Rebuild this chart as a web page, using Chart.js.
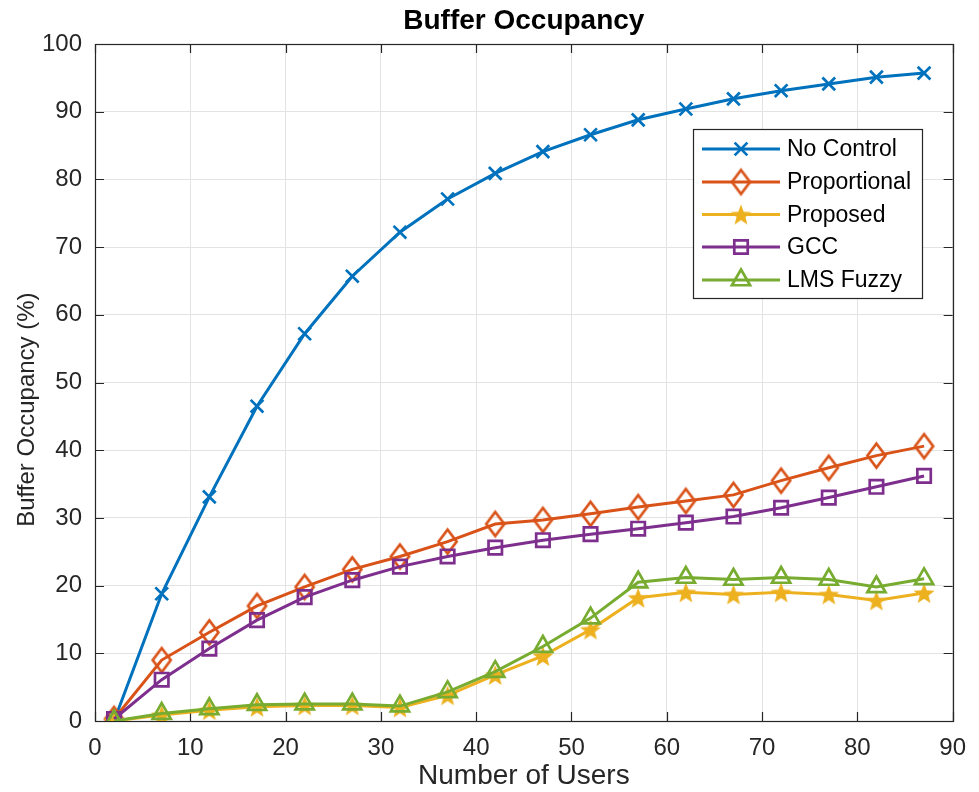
<!DOCTYPE html>
<html>
<head>
<meta charset="utf-8">
<script src="https://cdn.jsdelivr.net/npm/chart.js@4/dist/chart.umd.min.js"></script>
<style>
  html, body { margin: 0; padding: 0; background: #ffffff; }
  #wrap { width: 979px; height: 792px; }
</style>
</head>
<body>
<div id="wrap"><canvas id="c" width="979" height="792"></canvas></div>
<script>
// Number of users at each sample
const users = [2, 7, 12, 17, 22, 27, 32, 37, 42, 47, 52, 57, 62, 67, 72, 77, 82, 87];

// Buffer occupancy (%) per scheme
const noControl    = [0, 18.8, 33.1, 46.5, 57.2, 65.7, 72.2, 77.1, 80.9, 84.1, 86.6, 88.8, 90.4, 91.9, 93.1, 94.1, 95.1, 95.7];
const proportional = [0.3, 9.0, 13.1, 17.0, 19.8, 22.4, 24.3, 26.5, 29.1, 29.7, 30.6, 31.6, 32.5, 33.4, 35.5, 37.4, 39.2, 40.6];
const proposed     = [0, 0.9, 1.6, 2.1, 2.3, 2.3, 2.0, 3.8, 6.8, 9.6, 13.5, 18.2, 19.0, 18.7, 19.0, 18.7, 17.8, 18.9];
const gcc          = [0.3, 6.1, 10.7, 14.9, 18.3, 20.8, 22.8, 24.3, 25.6, 26.7, 27.6, 28.4, 29.3, 30.2, 31.5, 33.0, 34.6, 36.2];
const lmsFuzzy     = [0, 1.1, 1.8, 2.4, 2.5, 2.5, 2.2, 4.3, 7.3, 11.0, 15.2, 20.5, 21.2, 20.9, 21.2, 20.9, 19.8, 21.0];

const seriesNames = ['No Control', 'Proportional', 'Proposed', 'GCC', 'LMS Fuzzy'];
const xTicks = [0, 10, 20, 30, 40, 50, 60, 70, 80, 90];
const yTicks = [0, 10, 20, 30, 40, 50, 60, 70, 80, 90, 100];
const chartTitle = 'Buffer Occupancy';
const yTitle = 'Buffer Occupancy (%)';

const COLORS = ['#0072BD', '#D95319', '#EDB120', '#7E2F8E', '#77AC30'];
const FONT = '"Liberation Sans", Arial, Helvetica, sans-serif';

// Hollow diamond marker, a bit taller than wide
function makeDiamond(color, w, h, lw) {
  const pad = lw + 1;
  const cv = document.createElement('canvas');
  cv.width = w + 2 * pad; cv.height = h + 2 * pad;
  const g = cv.getContext('2d');
  const cx = cv.width / 2, cy = cv.height / 2;
  g.strokeStyle = color; g.lineWidth = lw; g.lineJoin = 'miter';
  g.beginPath();
  g.moveTo(cx, cy - h / 2);
  g.lineTo(cx + w / 2, cy);
  g.lineTo(cx, cy + h / 2);
  g.lineTo(cx - w / 2, cy);
  g.closePath();
  g.stroke();
  return cv;
}

// Filled five-pointed star marker
function makeStar(color, r) {
  const size = Math.ceil(2 * r + 4);
  const cv = document.createElement('canvas');
  cv.width = size; cv.height = size;
  const g = cv.getContext('2d');
  const cx = size / 2, cy = size / 2 + r * 0.1;
  const ri = r * 0.42;
  g.fillStyle = color;
  g.beginPath();
  for (let i = 0; i < 10; i++) {
    const a = -Math.PI / 2 + i * Math.PI / 5;
    const rr = i % 2 === 0 ? r : ri;
    const px = cx + rr * Math.cos(a), py = cy + rr * Math.sin(a);
    if (i === 0) g.moveTo(px, py); else g.lineTo(px, py);
  }
  g.closePath();
  g.fill();
  return cv;
}

const diamondImg = makeDiamond(COLORS[1], 18, 24, 2.7);
const starImg = makeStar(COLORS[2], 11);

const values = [noControl, proportional, proposed, gcc, lmsFuzzy];
const markerStyles = [
  { pointStyle: 'crossRot', pointRadius: 9 },
  { pointStyle: diamondImg, pointRadius: 10 },
  { pointStyle: starImg, pointRadius: 10 },
  { pointStyle: 'rect', pointRadius: 9.5 },
  { pointStyle: 'triangle', pointRadius: 10.5 }
];

const datasets = seriesNames.map((name, i) => ({
  label: name,
  data: users.map((u, k) => ({ x: u, y: values[i][k] })),
  borderColor: COLORS[i],
  backgroundColor: 'rgba(0,0,0,0)',
  pointBackgroundColor: 'rgba(0,0,0,0)',
  pointBorderColor: COLORS[i],
  pointBorderWidth: 2.7,
  borderWidth: 3,
  tension: 0,
  order: seriesNames.length - i,
  pointStyle: markerStyles[i].pointStyle,
  pointRadius: markerStyles[i].pointRadius,
  pointHoverRadius: markerStyles[i].pointRadius
}));

// Axes box with inward tick marks on all four sides, plus the title and y label
const boxPlugin = {
  id: 'axesBox',
  beforeDatasetsDraw(chart) {
    const { ctx, chartArea: a, scales } = chart;
    const len = 9;
    ctx.save();
    ctx.strokeStyle = '#262626';
    ctx.lineWidth = 1.2;
    ctx.beginPath();
    xTicks.forEach(v => {
      const px = Math.round(scales.x.getPixelForValue(v)) + 0.5;
      ctx.moveTo(px, a.bottom); ctx.lineTo(px, a.bottom - len);
      ctx.moveTo(px, a.top); ctx.lineTo(px, a.top + len);
    });
    yTicks.forEach(v => {
      const py = Math.round(scales.y.getPixelForValue(v)) + 0.5;
      ctx.moveTo(a.left, py); ctx.lineTo(a.left + len, py);
      ctx.moveTo(a.right, py); ctx.lineTo(a.right - len, py);
    });
    ctx.stroke();
    ctx.strokeRect(Math.round(a.left) + 0.5, Math.round(a.top) + 0.5,
                   Math.round(a.right - a.left), Math.round(a.bottom - a.top));

    ctx.fillStyle = '#000000';
    ctx.font = 'bold 28px ' + FONT;
    ctx.textAlign = 'center';
    ctx.textBaseline = 'alphabetic';
    ctx.fillText(chartTitle, (a.left + a.right) / 2, 29);

    ctx.fillStyle = '#262626';
    ctx.font = '24px ' + FONT;
    ctx.translate(27, scales.y.getPixelForValue(46));
    ctx.rotate(-Math.PI / 2);
    ctx.textBaseline = 'middle';
    ctx.fillText(yTitle, 0, 0);
    ctx.restore();
  }
};

// Boxed legend inside the plot, line + marker samples
const legendPlugin = {
  id: 'innerLegend',
  afterDatasetsDraw(chart) {
    const { ctx } = chart;
    const box = { x: 693.5, y: 129.5, w: 229, h: 169 };
    const rowY = [149, 182, 214.5, 247, 280];
    ctx.save();
    ctx.fillStyle = '#ffffff';
    ctx.fillRect(box.x, box.y, box.w, box.h);
    ctx.strokeStyle = '#262626';
    ctx.lineWidth = 1.2;
    ctx.strokeRect(box.x, box.y, box.w, box.h);
    chart.data.datasets.forEach((ds, i) => {
      const y = rowY[i];
      ctx.strokeStyle = ds.borderColor;
      ctx.lineWidth = ds.borderWidth;
      ctx.beginPath();
      ctx.moveTo(702, y); ctx.lineTo(780, y);
      ctx.stroke();
      ctx.fillStyle = 'rgba(0,0,0,0)';
      ctx.strokeStyle = ds.pointBorderColor;
      ctx.lineWidth = ds.pointBorderWidth;
      Chart.helpers.drawPoint(ctx, {
        pointStyle: ds.pointStyle, radius: ds.pointRadius,
        rotation: 0, borderWidth: ds.pointBorderWidth
      }, 741, y);
      ctx.fillStyle = '#000000';
      ctx.font = '23px ' + FONT;
      ctx.textBaseline = 'middle';
      ctx.textAlign = 'left';
      ctx.fillText(ds.label, 787, y + 1);
    });
    ctx.restore();
  }
};

new Chart(document.getElementById('c'), {
  type: 'line',
  data: { datasets },
  plugins: [boxPlugin, legendPlugin],
  options: {
    responsive: false,
    animation: false,
    events: [],
    layout: { padding: { left: 0, right: 26, top: 44, bottom: 0 } },
    plugins: {
      legend: { display: false },
      tooltip: { enabled: false },
      title: { display: false }
    },
    scales: {
      x: {
        type: 'linear',
        min: 0, max: 90,
        afterFit(s) { s.height = 71; },
        afterBuildTicks(s) { s.ticks = xTicks.map(v => ({ value: v })); },
        grid: { color: '#e3e3e3', lineWidth: 1, drawTicks: false },
        border: { display: false },
        ticks: {
          color: '#262626', padding: 13,
          font: { family: FONT, size: 24 },
          maxRotation: 0
        },
        title: {
          display: true, text: 'Number of Users', color: '#262626',
          font: { family: FONT, size: 28, lineHeight: 1.1 },
          padding: { top: 0, bottom: 0 }
        }
      },
      y: {
        type: 'linear',
        min: 0, max: 100,
        afterFit(s) { s.width = 95; },
        afterBuildTicks(s) { s.ticks = yTicks.map(v => ({ value: v })); },
        grid: { color: '#e3e3e3', lineWidth: 1, drawTicks: false },
        border: { display: false },
        ticks: {
          color: '#262626', padding: 13,
          font: { family: FONT, size: 24 }
        },
        title: { display: false }
      }
    }
  }
});
</script>
</body>
</html>
